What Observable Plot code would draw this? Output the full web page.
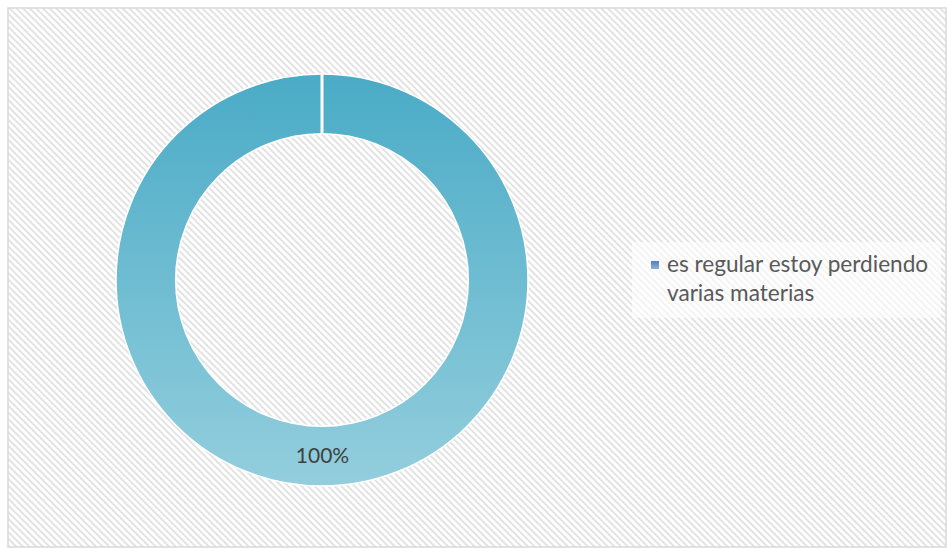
<!DOCTYPE html>
<html><head><meta charset="utf-8">
<script src="https://cdn.jsdelivr.net/npm/d3@7"></script>
<script src="https://cdn.jsdelivr.net/npm/@observablehq/plot@0.6"></script>
<style>
body{margin:0;background:#fff;}
#chart{width:947px;height:548px;}
</style></head><body><div id="chart"></div>
<script>
const categories = ["es regular estoy perdiendo varias materias"];
const values = [100];
const valueLabels = ["100%"];
const legendLines = ["es regular estoy perdiendo", "varias materias"];

const W = 947, H = 548;
const innerRatio = 0.71;
const pie = d3.pie().sort(null).value(d => d.value);
const data = categories.map((c, i) => ({category: c, value: values[i], label: valueLabels[i]}));
const arcs = pie(data);
const midR = (1 + innerRatio) / 2;
const labelData = arcs.map(a => {
  const m = (a.startAngle + a.endAngle) / 2;
  return {x: Math.sin(m) * midR, y: Math.cos(m) * midR, label: a.data.label};
});

const svgNS = "http://www.w3.org/2000/svg";
function el(name, attrs) {
  const e = document.createElementNS(svgNS, name);
  for (const k in attrs) e.setAttribute(k, attrs[k]);
  return e;
}

function background(index, scales, values, dims) {
  const g = el("g", {});
  const defs = el("defs", {});
  const pat = el("pattern", {id: "hatch", width: 4.7, height: 4.7, patternUnits: "userSpaceOnUse", patternTransform: "rotate(-45)"});
  pat.appendChild(el("rect", {x: 0, y: 0, width: 4.7, height: 4.7, fill: "#ffffff"}));
  pat.appendChild(el("rect", {x: 0, y: 0, width: 1.9, height: 4.7, fill: "#e2e2e2"}));
  defs.appendChild(pat);
  g.appendChild(defs);
  g.appendChild(el("rect", {x: 0, y: 0, width: dims.width, height: dims.height, fill: "#fff"}));
  g.appendChild(el("rect", {x: 8, y: 8, width: dims.width - 9, height: dims.height - 9, fill: "url(#hatch)", stroke: "#d9d9d9", "stroke-width": 1.5}));
  return g;
}

function donut(index, scales, values, dims) {
  const cx = scales.x(0), cy = scales.y(0);
  const R = scales.x(1) - cx;
  const r = R * innerRatio;
  const g = el("g", {transform: `translate(${cx},${cy})`});
  const defs = el("defs", {});
  const grad = el("linearGradient", {id: "ringGrad", gradientUnits: "userSpaceOnUse", x1: 0, y1: -R, x2: 0, y2: R});
  grad.appendChild(el("stop", {offset: "0%", "stop-color": "#4aabc6"}));
  grad.appendChild(el("stop", {offset: "100%", "stop-color": "#93cedd"}));
  defs.appendChild(grad);
  g.appendChild(defs);
  const arc = d3.arc().innerRadius(r).outerRadius(R);
  for (const a of arcs) {
    g.appendChild(el("path", {d: arc(a), fill: "url(#ringGrad)", stroke: "#ffffff", "stroke-width": 1.5}));
  }
  for (const a of arcs) {
    const s = a.startAngle;
    g.appendChild(el("line", {
      x1: Math.sin(s) * r, y1: -Math.cos(s) * r,
      x2: Math.sin(s) * (R + 1), y2: -Math.cos(s) * (R + 1),
      stroke: "#ffffff", "stroke-width": 3
    }));
  }
  return g;
}

function legend(index, scales, values, dims) {
  const g = el("g", {"text-anchor": "start"});
  g.appendChild(el("rect", {x: 632, y: 242, width: 309, height: 76, fill: "#ffffff", "fill-opacity": 0.6}));
  const defs = el("defs", {});
  const grad = el("linearGradient", {id: "legGrad", x1: 0, y1: 0, x2: 0, y2: 1});
  grad.appendChild(el("stop", {offset: "0%", "stop-color": "#4f81bd"}));
  grad.appendChild(el("stop", {offset: "100%", "stop-color": "#8fb0dc"}));
  defs.appendChild(grad);
  g.appendChild(defs);
  g.appendChild(el("rect", {x: 651, y: 261, width: 8, height: 8, fill: "url(#legGrad)"}));
  legendLines.forEach((line, i) => {
    const t = el("text", {x: 667, y: 272 + i * 29, fill: "#595959", "font-size": 22.6, "text-anchor": "start", "font-family": "Lato, 'Open Sans', sans-serif"});
    t.textContent = line;
    g.appendChild(t);
  });
  return g;
}

const plot = Plot.plot({
  width: W, height: H,
  marginLeft: 116, marginRight: W - 116 - 412,
  marginTop: 74, marginBottom: H - 74 - 412,
  x: {domain: [-1, 1], axis: null},
  y: {domain: [-1, 1], axis: null},
  style: {background: "#fff", overflow: "visible"},
  marks: [
    background,
    donut,
    Plot.text(labelData, {x: "x", y: "y", text: "label", fill: "#404040", fontSize: 21, fontFamily: "Lato, 'Open Sans', sans-serif"}),
    legend
  ]
});
document.getElementById("chart").appendChild(plot);
</script>
</body></html>
